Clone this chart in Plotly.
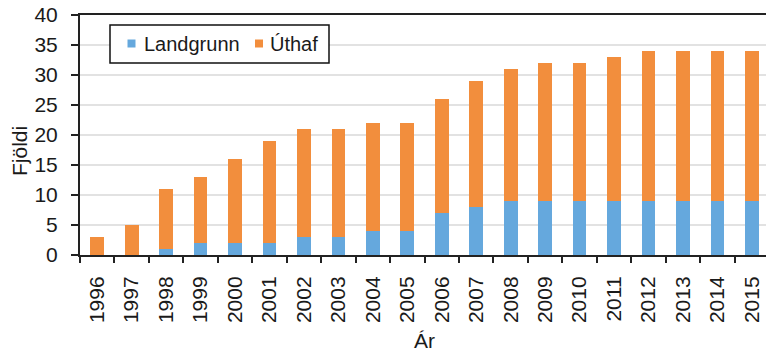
import plotly.graph_objects as go

years = [str(y) for y in range(1996, 2016)]
landgrunn = [0, 0, 1, 2, 2, 2, 3, 3, 4, 4, 7, 8, 9, 9, 9, 9, 9, 9, 9, 9]
totals = [3, 5, 11, 13, 16, 19, 21, 21, 22, 22, 26, 29, 31, 32, 32, 33, 34, 34, 34, 34]
uthaf = [t - l for t, l in zip(totals, landgrunn)]
series_names = ["Landgrunn", "Úthaf"]

blue = "#65a8dd"
orange = "#f28e3d"
font = "Liberation Sans, Arial, sans-serif"
ink = "#1a1a1a"

fig = go.Figure()
fig.add_bar(x=years, y=landgrunn, name=series_names[0], marker_color=blue,
            marker_line_width=0, showlegend=False)
fig.add_bar(x=years, y=uthaf, name=series_names[1], marker_color=orange,
            marker_line_width=0, showlegend=False)

# plot area: 80..766 px wide, 15..255 px tall
W, H, L, T = 686.0, 240.0, 80.0, 15.0


def px_x(px):
    return (px - L) / W


def px_y(py):
    return (T + H - py) / H


shapes = [
    # legend frame
    dict(type="rect", xref="paper", yref="paper",
         x0=px_x(110), x1=px_x(329), y0=px_y(63), y1=px_y(25),
         line=dict(color="#111", width=1.5), fillcolor="white", layer="above"),
]
annotations = []
legend_items = [(series_names[0], blue, 131.5, 142), (series_names[1], orange, 259, 268)]
for name, col, mx, tx in legend_items:
    shapes.append(dict(type="rect", xref="paper", yref="paper",
                       x0=px_x(mx - 4), x1=px_x(mx + 4),
                       y0=px_y(47.5), y1=px_y(39.5),
                       line=dict(width=0), fillcolor=col, layer="above"))
    annotations.append(dict(text=name, xref="paper", yref="paper",
                            x=px_x(tx), y=px_y(44), xanchor="left", yanchor="middle",
                            showarrow=False, font=dict(size=20, color=ink)))

# axis titles
annotations.append(dict(text="Fjöldi", xref="paper", yref="paper",
                        x=px_x(19), y=px_y(151), textangle=-90,
                        xanchor="center", yanchor="middle", showarrow=False,
                        font=dict(size=21, color=ink)))
annotations.append(dict(text="Ár", xref="paper", yref="paper",
                        x=px_x(424), y=px_y(340),
                        xanchor="center", yanchor="middle", showarrow=False,
                        font=dict(size=21, color=ink)))

fig.update_layout(
    barmode="stack",
    bargap=0.6,
    width=766, height=356,
    margin=dict(l=80, r=0, t=15, b=101),
    plot_bgcolor="white", paper_bgcolor="white",
    font=dict(family=font, size=20, color=ink),
    showlegend=False,
    shapes=shapes,
    annotations=annotations,
)
fig.update_xaxes(
    type="category", range=[-0.5, 19.41],
    showline=True, linecolor="#222", linewidth=2, mirror=True,
    ticks="outside", tickson="boundaries", ticklen=6, tickcolor="#222",
    tickwidth=1.5, tickangle=-90, tickfont=dict(size=21, color=ink),
    ticklabelstandoff=11,
)
fig.update_yaxes(
    range=[0, 40], dtick=5, showline=True, linecolor="#222", linewidth=2,
    ticks="outside", ticklen=7, tickcolor="#222", tickwidth=1.5,
    showgrid=True, gridcolor="#e2e2e2", gridwidth=2,
    tickfont=dict(size=21, color=ink), ticklabelstandoff=9,
)

fig.write_html("out.html")
